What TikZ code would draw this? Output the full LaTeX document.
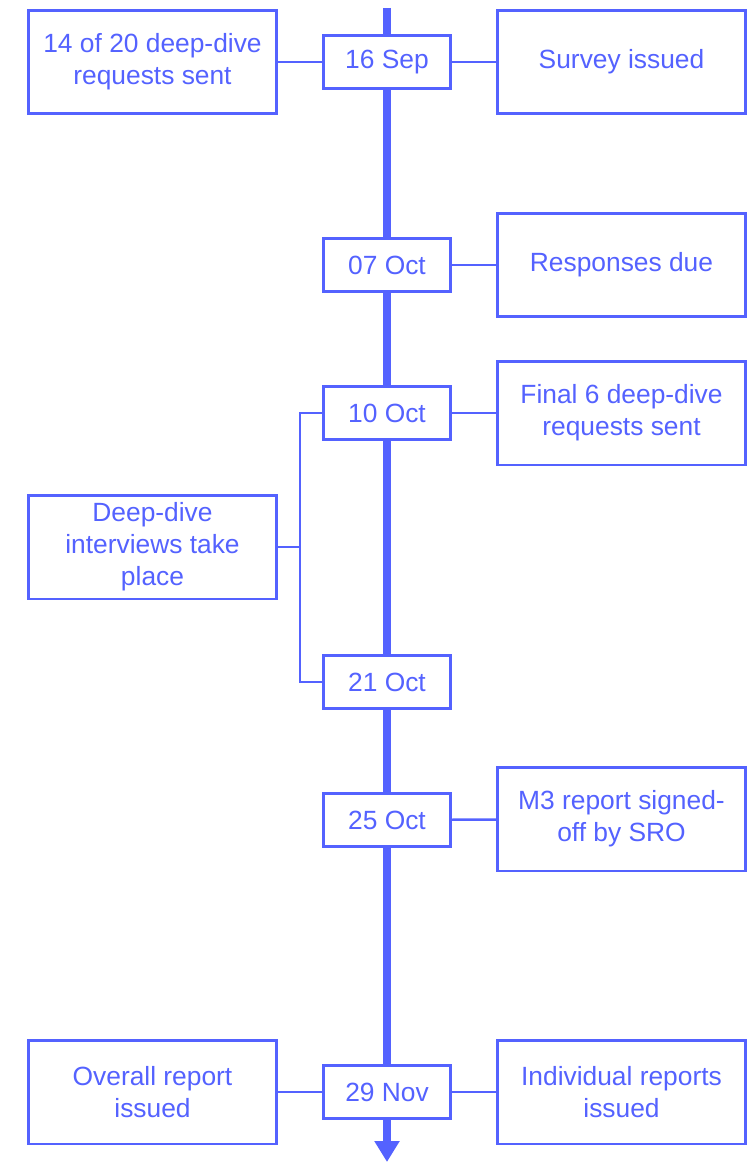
\documentclass[tikz,border=0pt]{standalone}
\usepackage{fontspec}
\setmainfont{Liberation Sans}
\usetikzlibrary{arrows.meta}
\definecolor{tlblue}{RGB}{84,98,255}

\tikzset{
  datebox/.style={draw=tlblue,line width=1.7pt,fill=white,text=tlblue,
    minimum width=2.54cm,minimum height=1.06cm,inner sep=0pt},
  eventbox/.style={draw=tlblue,line width=1.7pt,fill=white,text=tlblue,
    minimum width=4.96cm,minimum height=2.08cm,inner sep=0pt,
    align=center,font=\fontsize{15}{18.2}\selectfont},
  link/.style={draw=tlblue,line width=1.4pt}
}

\begin{document}
\begin{tikzpicture}[x=0.02cm,y=-0.02cm,font=\fontsize{15}{18.2}\selectfont]
    \useasboundingbox (0,0) rectangle (755,1162);
    % main time line
    \coordinate (top) at (387,8);
    \coordinate (bot) at (387,1162);
    \draw[tlblue,line width=4.5pt,-{Triangle[width=0.48cm,length=0.42cm]}](top)--(bot);

    % dates
    \node[datebox] (sep16) at (387,62){16 Sep};
    \node[datebox] (oct07) at (387,265){07 Oct};
    \node[datebox] (oct10) at (387,413){10 Oct};
    \node[datebox] (oct21) at (387,682){21 Oct};
    \node[datebox] (oct25) at (387,820){25 Oct};
    \node[datebox] (nov29) at (387,1092){29 Nov};

    % events
    \node[eventbox] (sent14) at (152.5,62){14 of 20 deep-dive\\requests sent};
    \node[eventbox] (survey) at (621.5,62){Survey issued};
    \node[eventbox] (respdue) at (621.5,265){Responses due};
    \node[eventbox] (sent6) at (621.5,413){Final 6 deep-dive\\requests sent};
    \node[eventbox] (interv) at (152.5,547){Deep-dive\\interviews take\\place};
    \node[eventbox] (signoff) at (621.5,819){M3 report signed-\\off by SRO};
    \node[eventbox] (overall) at (152.5,1092){Overall report\\issued};
    \node[eventbox] (indiv) at (621.5,1092){Individual reports\\issued};

    % connectors
    \draw[link](sent14)--(sep16);
    \draw[link](sep16)--(survey);
    \draw[link](oct07)--(respdue);
    \draw[link](oct10)--(sent6);
    \draw[link](oct25)--(signoff);
    \draw[link](overall)--(nov29);
    \draw[link](nov29)--(indiv);
    \draw[link](oct10.west)--++(-22,0)|-(oct21.west);
    \draw[link](interv.east)--++(22,0);
  \end{tikzpicture}
\end{document}
